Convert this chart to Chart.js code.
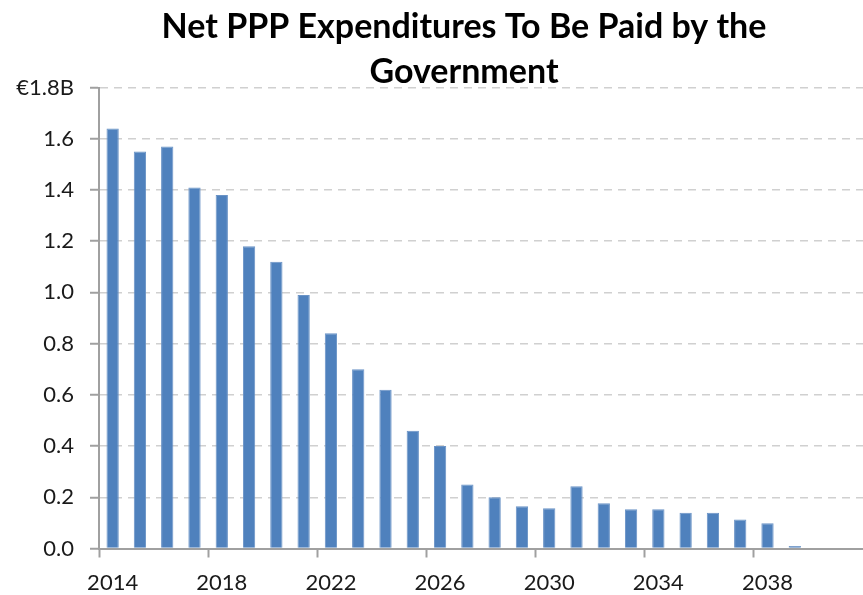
<!DOCTYPE html>
<html>
<head>
<meta charset="utf-8">
<script src="https://cdn.jsdelivr.net/npm/chart.js@4.4.1/dist/chart.umd.min.js"></script>
<style>
  html, body { margin: 0; padding: 0; background: #ffffff; }
  #wrap { width: 863px; height: 595px; position: relative; }
</style>
</head>
<body>
<div id="wrap"><canvas id="c" width="863" height="595"></canvas></div>
<script>
const titleLines = ['Net PPP Expenditures To Be Paid by the', 'Government'];
const years = ['2014','2015','2016','2017','2018','2019','2020','2021','2022','2023','2024','2025','2026','2027',
               '2028','2029','2030','2031','2032','2033','2034','2035','2036','2037','2038','2039','2040','2041'];
const expenditures = [1.64, 1.55, 1.57, 1.41, 1.38, 1.18, 1.12, 0.99, 0.84, 0.70, 0.62, 0.46, 0.40, 0.25,
                      0.20, 0.165, 0.157, 0.243, 0.177, 0.153, 0.153, 0.14, 0.14, 0.113, 0.099, 0.01, null, null];
const yTicks = [0, 0.2, 0.4, 0.6, 0.8, 1.0, 1.2, 1.4, 1.6, 1.8];
const xLabelEvery = 4;

const titlePlugin = {
  id: 'twoLineTitle',
  afterDraw(chart) {
    const ctx = chart.ctx;
    ctx.save();
    ctx.font = 'bold 34px Lato';
    ctx.fillStyle = '#000000';
    ctx.textAlign = 'center';
    ctx.textBaseline = 'alphabetic';
    ctx.fillText(titleLines[0], 464, 38);
    ctx.fillText(titleLines[1], 464, 83);
    ctx.restore();
  }
};

new Chart(document.getElementById('c'), {
  type: 'bar',
  data: {
    labels: years,
    datasets: [{
      data: expenditures,
      backgroundColor: '#4f81bd',
      borderColor: '#6a93c6',
      borderWidth: 1,
      barPercentage: 0.45,
      categoryPercentage: 1.0
    }]
  },
  options: {
    responsive: false,
    animation: false,
    layout: { padding: { top: 87.5, left: 0, right: 0, bottom: 0 } },
    plugins: {
      legend: { display: false },
      title: { display: false },
      tooltip: { enabled: false }
    },
    scales: {
      x: {
        offset: true,
        afterFit(scale) { scale.height = 46.5; },
        border: { display: true, color: '#a0a0a0', width: 2 },
        grid: {
          offset: true,
          drawOnChartArea: false,
          drawTicks: true,
          tickLength: 9,
          tickWidth: 2,
          tickColor: (ctx) => (ctx.index % xLabelEvery === 0 ? '#a0a0a0' : 'rgba(0,0,0,0)'),
          color: 'rgba(0,0,0,0)'
        },
        ticks: {
          autoSkip: false,
          maxRotation: 0,
          minRotation: 0,
          padding: 12,
          color: '#1a1a1a',
          font: { family: 'Lato', size: 22 },
          callback: (val, idx) => (idx % xLabelEvery === 0 ? years[idx] : '')
        }
      },
      y: {
        min: 0,
        max: 1.8,
        afterFit(scale) { scale.width = 99; },
        afterBuildTicks(scale) { scale.ticks = yTicks.map(v => ({ value: v })); },
        border: { display: true, color: '#a0a0a0', width: 2, dash: [8, 6] },
        grid: {
          drawTicks: true,
          tickLength: 9,
          tickWidth: 2,
          tickColor: '#a0a0a0',
          tickBorderDash: [],
          color: (ctx) => (ctx.tick && ctx.tick.value === 0 ? 'rgba(0,0,0,0)' : '#d0d0d0'),
          lineWidth: 1.5
        },
        ticks: {
          padding: 16,
          color: '#1a1a1a',
          font: { family: 'Lato', size: 22 },
          callback: (v) => (Math.abs(v - 1.8) < 1e-9 ? '€1.8B' : Number(v).toFixed(1))
        }
      }
    }
  },
  plugins: [titlePlugin]
});
</script>
</body>
</html>
